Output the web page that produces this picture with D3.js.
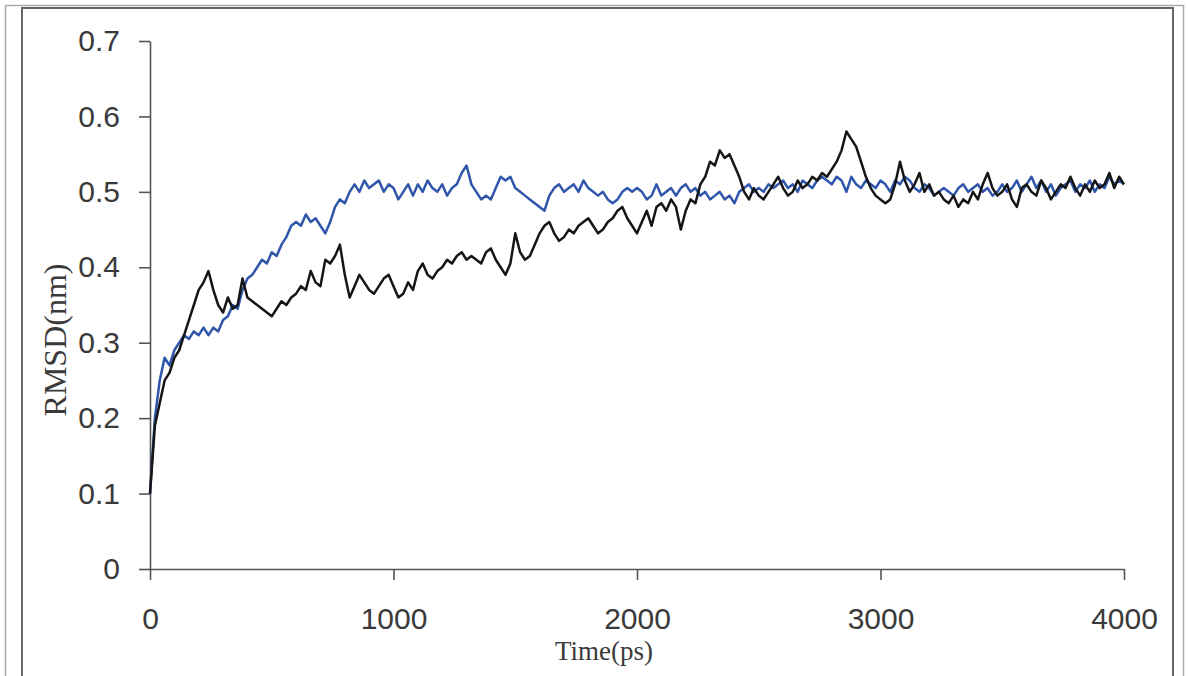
<!DOCTYPE html>
<html>
<head>
<meta charset="utf-8">
<script src="https://cdn.jsdelivr.net/npm/d3@7"></script>
<style>
  body{margin:0;background:#fff;}
  svg{display:block;}
  .tick text{font-family:"Liberation Sans",Arial,sans-serif;font-size:30px;fill:#3a3a3a;}
  .tick line,.domain{stroke:#555;stroke-width:1.6;}
  .title{font-family:"Liberation Serif","Times New Roman",serif;fill:#3a3a3a;}
</style>
</head>
<body>
<script>
// time step of the runs (ps)
var timeStep=20;

// RMSD (nm), one value every 20 ps, 0..4000 ps
var blueRmsd=[
  0.10,0.20,0.25,0.28,0.27,0.29,0.30,0.31,0.305,0.315,
  0.31,0.32,0.31,0.32,0.315,0.33,0.335,0.35,0.345,0.37,
  0.385,0.39,0.40,0.41,0.405,0.42,0.415,0.43,0.44,0.455,
  0.46,0.455,0.47,0.46,0.465,0.455,0.445,0.46,0.48,0.49,
  0.485,0.50,0.51,0.50,0.515,0.505,0.51,0.515,0.50,0.51,
  0.505,0.49,0.50,0.51,0.495,0.51,0.50,0.515,0.505,0.50,
  0.51,0.495,0.505,0.51,0.525,0.535,0.51,0.50,0.49,0.495,
  0.49,0.505,0.52,0.515,0.52,0.505,0.50,0.495,0.49,0.485,
  0.48,0.475,0.495,0.505,0.51,0.50,0.505,0.51,0.50,0.515,
  0.505,0.50,0.495,0.50,0.49,0.485,0.49,0.50,0.505,0.50,
  0.505,0.50,0.49,0.495,0.51,0.495,0.50,0.505,0.495,0.505,
  0.51,0.50,0.505,0.495,0.50,0.49,0.495,0.50,0.49,0.495,
  0.485,0.50,0.505,0.51,0.50,0.505,0.50,0.51,0.505,0.51,
  0.515,0.505,0.51,0.50,0.515,0.51,0.505,0.515,0.52,0.515,
  0.51,0.52,0.515,0.50,0.52,0.51,0.505,0.515,0.51,0.505,
  0.515,0.51,0.50,0.515,0.51,0.52,0.515,0.505,0.50,0.51,
  0.505,0.495,0.50,0.505,0.50,0.495,0.505,0.51,0.50,0.505,
  0.51,0.50,0.505,0.495,0.50,0.51,0.50,0.505,0.515,0.50,
  0.51,0.52,0.505,0.515,0.50,0.51,0.495,0.505,0.51,0.515,
  0.50,0.51,0.505,0.515,0.50,0.51,0.505,0.52,0.51,0.515,
  0.51
];

var blackRmsd=[
  0.10,0.19,0.22,0.25,0.26,0.28,0.29,0.31,0.33,0.35,
  0.37,0.38,0.395,0.37,0.35,0.34,0.36,0.345,0.35,0.385,
  0.36,0.355,0.35,0.345,0.34,0.335,0.345,0.355,0.35,0.36,
  0.365,0.375,0.37,0.395,0.38,0.375,0.41,0.405,0.415,0.43,
  0.39,0.36,0.375,0.39,0.38,0.37,0.365,0.375,0.385,0.39,
  0.375,0.36,0.365,0.38,0.37,0.395,0.405,0.39,0.385,0.395,
  0.40,0.41,0.405,0.415,0.42,0.41,0.415,0.41,0.405,0.42,
  0.425,0.41,0.40,0.39,0.405,0.445,0.42,0.41,0.415,0.43,
  0.445,0.455,0.46,0.445,0.435,0.44,0.45,0.445,0.455,0.46,
  0.465,0.455,0.445,0.45,0.46,0.465,0.475,0.48,0.465,0.455,
  0.445,0.46,0.475,0.455,0.48,0.485,0.475,0.49,0.48,0.45,
  0.475,0.49,0.485,0.51,0.52,0.54,0.535,0.555,0.545,0.55,
  0.535,0.52,0.50,0.49,0.505,0.495,0.49,0.50,0.51,0.52,
  0.505,0.495,0.50,0.515,0.505,0.51,0.52,0.515,0.525,0.52,
  0.53,0.54,0.555,0.58,0.57,0.56,0.54,0.52,0.505,0.495,
  0.49,0.485,0.49,0.51,0.54,0.515,0.50,0.51,0.525,0.50,
  0.51,0.495,0.50,0.49,0.485,0.495,0.48,0.49,0.485,0.50,
  0.49,0.51,0.525,0.505,0.495,0.50,0.51,0.49,0.48,0.505,
  0.51,0.50,0.495,0.515,0.505,0.49,0.50,0.51,0.505,0.52,
  0.505,0.495,0.51,0.50,0.515,0.505,0.51,0.525,0.505,0.52,
  0.51
];

var xTicks=[0,1000,2000,3000,4000];
var yTicks=[0,0.1,0.2,0.3,0.4,0.5,0.6,0.7];

var drawGraph=function()
{
  var scren={width:1188,height:676};
  var svg=d3.select("body").append("svg")
            .attr("width",scren.width)
            .attr("height",scren.height);

  var margins={top:41,bottom:107,left:150,right:64};
  var width=scren.width-margins.left-margins.right;
  var height=scren.height-margins.top-margins.bottom;

  // frame round the picture
  svg.append("rect").attr("x",5.5).attr("y",5.5)
     .attr("width",1178).attr("height",690)
     .attr("fill","none").attr("stroke","#aaa").attr("stroke-width",1.5);
  svg.append("path").attr("d","M22,700V8H1173V700")
     .attr("fill","none").attr("stroke","#666").attr("stroke-width",2);

  var xScale=d3.scaleLinear().domain([0,4000]).range([0,width]);
  var yScale=d3.scaleLinear().domain([0,0.7]).range([height,0]);

  var plotLand=svg.append("g")
                  .attr("transform","translate("+margins.left+","+margins.top+")");

  var xAxis=d3.axisBottom(xScale).tickValues(xTicks).tickSize(11).tickSizeOuter(0)
              .tickPadding(28).tickFormat(d3.format("d"));
  var yAxis=d3.axisLeft(yScale).tickValues(yTicks).tickSize(11).tickSizeOuter(0)
              .tickPadding(19).tickFormat(function(d){return d===0?"0":d3.format(".1f")(d);});

  plotLand.append("g").attr("transform","translate(0,"+height+")").call(xAxis);
  plotLand.append("g").call(yAxis);

  var line=d3.line()
             .x(function(d,i){return xScale(i*timeStep);})
             .y(function(d){return yScale(d);});

  plotLand.append("path").datum(blueRmsd)
          .attr("d",line).attr("fill","none")
          .attr("stroke","#2f56aa").attr("stroke-width",2.5).attr("stroke-linejoin","round");
  plotLand.append("path").datum(blackRmsd)
          .attr("d",line).attr("fill","none")
          .attr("stroke","#151515").attr("stroke-width",2.5).attr("stroke-linejoin","round");

  svg.append("text").classed("title",true)
     .attr("x",604).attr("y",660)
     .attr("text-anchor","middle").attr("font-size",27)
     .text("Time(ps)");
  svg.append("text").classed("title",true)
     .attr("transform","translate(66,340) rotate(-90)")
     .attr("text-anchor","middle").attr("font-size",32)
     .text("RMSD(nm)");
};
drawGraph();
</script>
</body>
</html>
